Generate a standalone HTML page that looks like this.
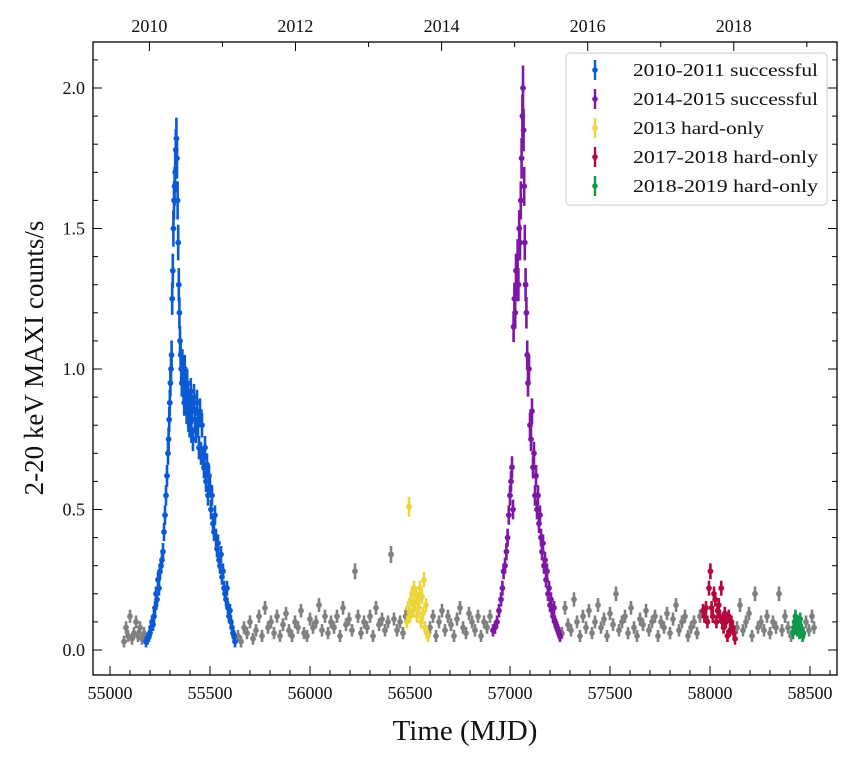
<!DOCTYPE html>
<html><head><meta charset="utf-8"><style>
body{margin:0;background:#fff;}
svg text{font-family:"Liberation Serif",serif;fill:#111;}
</style></head><body>
<svg id="chart" width="855" height="760" xmlns="http://www.w3.org/2000/svg"></svg>
<script>
const blueMjd=[55180,55188,55195,55200,55205,55210,55215,55220,55225,55230,55235,55240,55245,55250,55255,55260,55265,55270,55275,55280,55285,55290,55293,55296,55299,55302,55305,55308,55311,55314,55317,55320,55323,55326,55329,55332,55335,55338,55341,55344,55347,55350,55353,55356,55359,55362,55365,55368,55371,55374,55377,55380,55383,55386,55389,55392,55395,55398,55401,55404,55407,55410,55415,55420,55425,55430,55435,55440,55445,55450,55455,55460,55465,55470,55475,55480,55485,55490,55495,55500,55505,55510,55515,55520,55525,55530,55535,55540,55545,55550,55555,55560,55565,55570,55575,55580,55585,55590,55595,55600,55605,55610,55615,55620,55625];
const blueVal=[0.03,0.04,0.05,0.06,0.08,0.1,0.09,0.12,0.15,0.2,0.18,0.25,0.22,0.28,0.3,0.32,0.35,0.42,0.48,0.55,0.62,0.7,0.75,0.82,0.88,0.95,1.0,1.05,1.25,1.35,1.5,1.6,1.65,1.7,1.78,1.82,1.75,1.6,1.45,1.3,1.2,1.1,1.05,1.0,0.95,1.02,0.98,0.92,0.88,1.0,0.95,0.9,0.85,0.95,0.9,0.82,0.88,0.8,0.85,0.92,0.78,0.85,0.75,0.9,0.82,0.78,0.88,0.8,0.72,0.85,0.7,0.8,0.68,0.65,0.72,0.6,0.66,0.55,0.62,0.58,0.5,0.55,0.45,0.42,0.48,0.4,0.36,0.38,0.32,0.3,0.34,0.26,0.28,0.22,0.2,0.18,0.22,0.15,0.12,0.14,0.1,0.08,0.06,0.05,0.03];
const purpleMjd=[56915,56925,56935,56945,56955,56962,56968,56975,56982,56988,56994,57000,57005,57010,57015,57018,57022,57026,57030,57034,57038,57042,57046,57050,57054,57058,57062,57065,57068,57071,57074,57078,57082,57086,57090,57095,57100,57105,57110,57115,57120,57125,57130,57135,57140,57145,57150,57155,57160,57165,57170,57175,57180,57185,57190,57195,57200,57205,57210,57215,57220,57225,57230,57235,57240,57245,57250];
const purpleVal=[0.07,0.08,0.1,0.14,0.18,0.22,0.28,0.3,0.35,0.4,0.48,0.55,0.6,0.65,0.5,1.15,1.25,1.2,1.35,1.3,1.4,1.3,1.5,1.45,1.6,1.75,1.9,2.0,1.85,1.65,1.45,1.3,1.2,1.05,0.95,1.0,0.8,0.75,0.85,0.65,0.7,0.55,0.62,0.5,0.55,0.45,0.48,0.4,0.35,0.38,0.3,0.32,0.25,0.28,0.2,0.22,0.16,0.18,0.14,0.12,0.15,0.1,0.09,0.08,0.07,0.06,0.05];
const yellowMjd=[56485,56490,56495,56500,56505,56510,56515,56520,56525,56530,56535,56540,56545,56550,56555,56560,56565,56570,56575,56580,56585,56590];
const yellowVal=[0.1,0.15,0.51,0.12,0.18,0.2,0.14,0.22,0.17,0.2,0.12,0.18,0.15,0.22,0.1,0.19,0.13,0.25,0.08,0.16,0.06,0.05];
const redMjd=[57965,57972,57980,57987,57995,58002,58008,58014,58020,58026,58032,58038,58044,58050,58056,58062,58068,58074,58080,58087,58094,58100,58107,58114,58120,58125];
const redVal=[0.14,0.12,0.15,0.1,0.22,0.28,0.15,0.12,0.2,0.18,0.1,0.14,0.16,0.12,0.22,0.1,0.08,0.13,0.1,0.05,0.12,0.07,0.1,0.08,0.06,0.04];
const greenMjd=[58415,58419,58423,58427,58431,58435,58439,58443,58447,58451,58455,58459,58463,58467];
const greenVal=[0.06,0.08,0.1,0.12,0.08,0.07,0.1,0.09,0.06,0.11,0.08,0.07,0.05,0.06];
const grayMjd=[55070,55080,55090,55100,55110,55120,55130,55140,55150,55160,55170,55640,55655,55670,55685,55700,55715,55730,55745,55760,55775,55790,55805,55820,55835,55850,55865,55880,55895,55910,55925,55940,55955,55970,55985,56000,56015,56030,56045,56060,56075,56090,56105,56120,56135,56150,56165,56180,56195,56210,56225,56240,56255,56270,56285,56300,56315,56330,56345,56360,56375,56390,56405,56420,56435,56450,56465,56478,56600,56615,56630,56645,56660,56675,56690,56705,56720,56735,56750,56765,56780,56795,56810,56825,56840,56855,56870,56885,56900,57260,57275,57290,57305,57320,57335,57350,57365,57380,57395,57410,57425,57440,57455,57470,57485,57500,57515,57530,57545,57560,57575,57590,57605,57620,57635,57650,57665,57680,57695,57710,57725,57740,57755,57770,57785,57800,57815,57830,57845,57860,57875,57890,57905,57920,57935,57950,58135,58150,58165,58180,58195,58210,58225,58240,58255,58270,58285,58300,58315,58330,58345,58360,58375,58390,58405,58480,58495,58510,58520];
const grayVal=[0.03,0.08,0.05,0.12,0.04,0.06,0.1,0.05,0.08,0.04,0.06,0.05,0.03,0.08,0.06,0.1,0.04,0.07,0.12,0.05,0.15,0.08,0.1,0.06,0.12,0.05,0.09,0.13,0.07,0.05,0.1,0.08,0.14,0.06,0.05,0.11,0.08,0.1,0.16,0.07,0.12,0.06,0.1,0.08,0.12,0.05,0.15,0.09,0.11,0.07,0.28,0.12,0.06,0.1,0.08,0.12,0.05,0.15,0.09,0.11,0.07,0.1,0.34,0.11,0.07,0.1,0.06,0.12,0.08,0.12,0.05,0.1,0.14,0.07,0.12,0.09,0.05,0.11,0.15,0.08,0.06,0.13,0.1,0.07,0.12,0.05,0.1,0.08,0.12,0.06,0.15,0.09,0.07,0.18,0.1,0.05,0.12,0.08,0.14,0.06,0.1,0.16,0.08,0.11,0.05,0.13,0.09,0.2,0.07,0.1,0.12,0.06,0.15,0.08,0.05,0.11,0.09,0.14,0.07,0.1,0.12,0.05,0.1,0.08,0.13,0.06,0.11,0.16,0.07,0.1,0.12,0.05,0.08,0.1,0.06,0.12,0.08,0.16,0.07,0.1,0.13,0.05,0.2,0.08,0.1,0.07,0.12,0.06,0.1,0.08,0.2,0.07,0.12,0.08,0.05,0.1,0.07,0.12,0.08];
const xTicks=[55000,55500,56000,56500,57000,57500,58000,58500];
const yTicks=[0,0.5,1.0,1.5,2.0];
const yTickLabels=["0.0","0.5","1.0","1.5","2.0"];
const yearTicks=[2010,2012,2014,2016,2018];
const yearMjd=[55197,55927,56658,57388,58119];
const legendLabels=["2010-2011 successful","2014-2015 successful","2013 hard-only","2017-2018 hard-only","2018-2019 hard-only"];
const colors=["#0a5ad4","#7e16a6","#ecd53a","#b3093e","#0f9a4a"];

const L=93,R=837,T=42,B=675;
const xs=m=>110+(m-55000)*0.2;
const ys=v=>650-v*281;
const svg=document.getElementById('chart');
const NS="http://www.w3.org/2000/svg";
function mk(tag,attrs,parent){const e=document.createElementNS(NS,tag);for(const k in attrs)e.setAttribute(k,attrs[k]);(parent||svg).appendChild(e);return e;}

function series(mjd,val,color,name){
  const g=mk('g',{});
  
  
  for(let i=0;i<mjd.length;i++){
    const x=xs(mjd[i]),y=ys(val[i]);
    const err=0.02+val[i]*0.03;
    mk('line',{x1:x,x2:x,y1:ys(val[i]+err),y2:ys(val[i]-err),stroke:color,'stroke-width':2.6},g);
    const c=mk('circle',{cx:x,cy:y,r:2.9,fill:color},g);
    
    
  }
}
series(grayMjd,grayVal,"#808080","gray-series");
series(blueMjd,blueVal,colors[0],"series-2010-2011");
series(purpleMjd,purpleVal,colors[1],"series-2014-2015");
series(yellowMjd,yellowVal,colors[2],"series-2013");
series(redMjd,redVal,colors[3],"series-2017-2018");
series(greenMjd,greenVal,colors[4],"series-2018-2019");

const frame=mk('rect',{x:L,y:T,width:R-L,height:B-T,fill:'none',stroke:'#000','stroke-width':1.3});



for(let m=55000;m<=58700;m+=100){
  const x=xs(m); if(x<L||x>R)continue;
  const major=m%500===0; const len=major?9:5;
  mk('line',{x1:x,x2:x,y1:B,y2:B-len,stroke:'#000','stroke-width':1});
}
xTicks.forEach(m=>{
  const t=mk('text',{x:xs(m),y:B+24,'text-anchor':'middle','font-size':18});
  t.textContent=m;
  
  
});
for(let yr=2009;yr<=2019;yr++){
  const m=55197+(yr-2010)*365.25; const x=xs(m); if(x<L||x>R)continue;
  const major=yr%2===0;
  mk('line',{x1:x,x2:x,y1:T,y2:T+(major?9:5),stroke:'#000','stroke-width':1});
}
yearTicks.forEach((yr,i)=>{
  const t=mk('text',{x:xs(yearMjd[i]),y:T-10,'text-anchor':'middle','font-size':18});
  t.textContent=yr;
  
  
});
for(let k=-1;k<=21;k++){
  const v=k/10; const y=ys(v); if(y<T||y>B)continue;
  const major=k%5===0; const len=major?9:5;
  mk('line',{x1:L,x2:L+len,y1:y,y2:y,stroke:'#000','stroke-width':1});
  mk('line',{x1:R,x2:R-len,y1:y,y2:y,stroke:'#000','stroke-width':1});
}
yTicks.forEach((v,i)=>{
  const t=mk('text',{x:L-8,y:ys(v)+6,'text-anchor':'end','font-size':18});
  t.textContent=yTickLabels[i];
  
  
});
const xt=mk('text',{x:465,y:740,'text-anchor':'middle','font-size':29});
xt.textContent="Time (MJD)";


const yt=mk('text',{x:0,y:0,'text-anchor':'middle','font-size':27,transform:'translate(43,358) rotate(-90)'});
yt.textContent="2-20 keV MAXI counts/s";



const lg=mk('g',{});


mk('rect',{x:566,y:53,width:261,height:152,rx:4,fill:'#fff','fill-opacity':0.85,stroke:'#ccc','stroke-width':1},lg);
const legendWidths=[185,185,131,185,185];
legendLabels.forEach((lab,i)=>{
  const y=70+i*29;
  const e=mk('g',{},lg);
  
  
  mk('line',{x1:595,x2:595,y1:y-10,y2:y+10,stroke:colors[i],'stroke-width':2.4},e);
  mk('circle',{cx:595,cy:y,r:2.8,fill:colors[i]},e);
  const t=mk('text',{x:633,y:y+6,'font-size':18,textLength:legendWidths[i],lengthAdjust:'spacingAndGlyphs'},e);
  t.textContent=lab;
});
</script>
</body></html>
